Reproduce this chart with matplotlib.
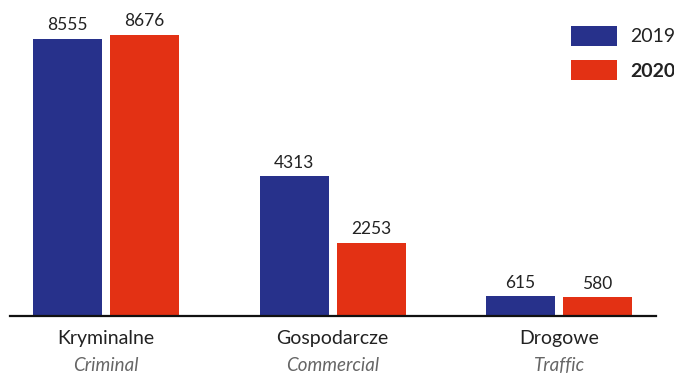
import numpy as np
import matplotlib.pyplot as plt

# data
categories_pl = ["Kryminalne", "Gospodarcze", "Drogowe"]
categories_en = ["Criminal", "Commercial", "Traffic"]
values_2019 = [8555, 4313, 615]
values_2020 = [8676, 2253, 580]

blue = "#27318b"
red = "#e33114"

plt.rcParams['font.family'] = ['Lato', 'DejaVu Sans']

fig = plt.figure(figsize=(6.74, 3.75), dpi=100)
ax = fig.add_axes([10 / 674, 59 / 375, 646 / 674, 316 / 375])

x = np.arange(len(categories_pl))
width = 0.3046
off = 0.170

b1 = ax.bar(x - off, values_2019, width, color=blue, label="2019")
b2 = ax.bar(x + off, values_2020, width, color=red, label="2020")

for bars in (b1, b2):
    for rect in bars:
        ax.annotate(f"{int(rect.get_height())}",
                    (rect.get_x() + rect.get_width() / 2, rect.get_height()),
                    xytext=(0, 4), textcoords="offset points",
                    ha="center", va="bottom", fontsize=12.5, color="#222222")

ax.set_xlim(-0.424, 2.428)
ax.set_ylim(0, 9756)

for s in ["top", "left", "right"]:
    ax.spines[s].set_visible(False)
ax.spines["bottom"].set_linewidth(1.6)
ax.spines["bottom"].set_color("#111111")
ax.set_yticks([])
ax.set_xticks([])

for i in x:
    ax.text(i, -0.045, categories_pl[i], transform=ax.get_xaxis_transform(),
            ha="center", va="top", fontsize=14, color="#222222")
    ax.text(i, -0.13, categories_en[i], transform=ax.get_xaxis_transform(),
            ha="center", va="top", fontsize=13.5, color="#666666", style="italic")

leg = ax.legend(loc="upper left", bbox_to_anchor=(571 / 674, 1 - 26 / 375),
                bbox_transform=fig.transFigure, frameon=False, fontsize=14,
                handlelength=2.37, handleheight=1.19, handletextpad=0.67,
                labelspacing=0.75, borderpad=0, borderaxespad=0)
for t in leg.get_texts():
    t.set_color("#222222")
leg.get_texts()[1].set_fontweight("bold")

fig.savefig("out.png", dpi=100)
